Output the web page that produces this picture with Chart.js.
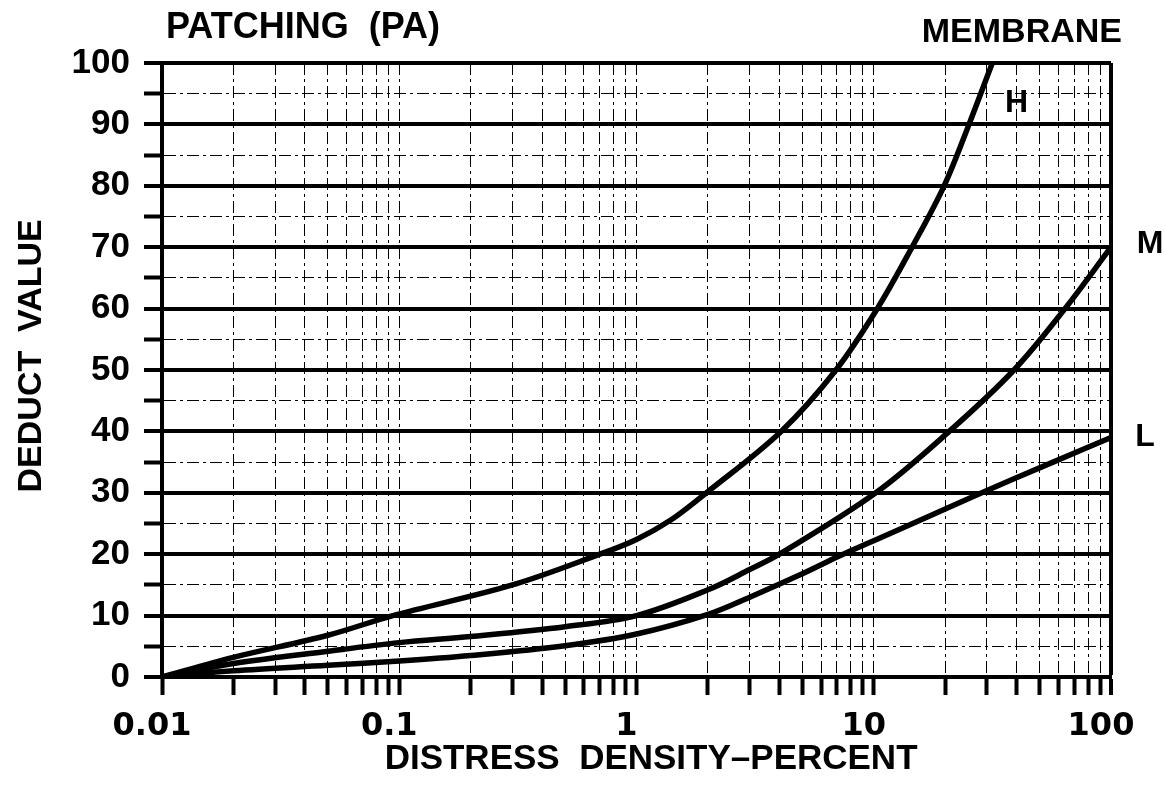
<!DOCTYPE html>
<html>
<head>
<meta charset="utf-8">
<title>Patching (PA) - Membrane</title>
<script src="https://cdn.jsdelivr.net/npm/chart.js@4.4.0/dist/chart.umd.min.js"></script>
<style>
  html, body { margin: 0; padding: 0; background: #fff; }
  canvas { display: block; }
</style>
</head>
<body>
<canvas id="deductChart" width="1166" height="789"></canvas>
<script>
// values (density in percent, deduct value)
const hDensity = [0.01, 0.02, 0.05, 0.094, 0.3, 0.7, 1, 1.4, 1.97, 4.07, 6.93, 10.35, 14.5, 19.8, 25.2, 31.6];
const hDeduct  = [0, 3.2, 6.8, 10, 15, 20, 22.4, 25.6, 30, 40, 50, 60, 70, 80, 90, 100];

const mDensity = [0.01, 0.02, 0.05, 0.1, 0.2, 0.5, 1, 2, 3, 4, 10.2, 20.8, 39, 64, 100];
const mDeduct  = [0, 2.2, 4.2, 5.6, 6.6, 8.2, 10, 14.2, 17.5, 20, 30, 40, 50, 60, 70];

const lDensity = [0.01, 0.02, 0.05, 0.1, 0.2, 0.5, 1, 2, 3, 5, 7.16, 10, 15, 27, 57, 100];
const lDeduct  = [0, 1.0, 1.9, 2.6, 3.5, 5.1, 7.0, 10.2, 13, 16.8, 19.7, 22.2, 25.2, 29.6, 35, 39];

const curveNames = ['H', 'M', 'L'];
const xTickLabels = ['0.01', '0.1', '1', '10', '100'];
const yTickLabels = ['0', '10', '20', '30', '40', '50', '60', '70', '80', '90', '100'];

const xTitle = 'DISTRESS  DENSITY–PERCENT';
const yTitle = 'DEDUCT  VALUE';
const leftCaption = 'PATCHING  (PA)';
const rightCaption = 'MEMBRANE';

// log grid: 1..9 in every decade, then 100
const xTickValues = [];
[0.01, 0.1, 1, 10].forEach(d => {
  for (let m = 1; m <= 9; m++) xTickValues.push(Number((d * m).toPrecision(3)));
});
xTickValues.push(100);

const toPoints = (xs, ys) => xs.map((x, i) => ({ x: x, y: ys[i] }));

const minorDash = [12, 4, 3, 4];

function curve(label, xs, ys) {
  return {
    label: label,
    data: toPoints(xs, ys),
    borderColor: '#000',
    borderWidth: 5.5,
    borderCapStyle: 'round',
    borderJoinStyle: 'round',
    pointRadius: 0,
    tension: 0.35,
    fill: false
  };
}

// captions and the H / M / L markers
const captionPlugin = {
  id: 'captions',
  afterDraw(chart) {
    const { ctx, chartArea, scales: { x, y } } = chart;
    ctx.save();
    ctx.fillStyle = '#000';
    ctx.textBaseline = 'middle';
    ctx.font = 'bold 36px "Liberation Sans", Arial, sans-serif';
    ctx.textAlign = 'left';
    ctx.fillText(leftCaption, 166, 28);
    ctx.font = 'bold 34px "Liberation Sans", Arial, sans-serif';
    ctx.textAlign = 'right';
    ctx.fillText(rightCaption, 1122, 33);

    ctx.font = 'bold 32px "Liberation Sans", Arial, sans-serif';
    ctx.textAlign = 'center';
    ctx.fillText(curveNames[0], x.getPixelForValue(40), y.getPixelForValue(93.5));
    ctx.fillText(curveNames[1], chartArea.right + 39, y.getPixelForValue(70.5));
    ctx.fillText(curveNames[2], chartArea.right + 34, y.getPixelForValue(39));
    ctx.restore();
  }
};

const ctx = document.getElementById('deductChart').getContext('2d');
const chart = new Chart(ctx, {
  type: 'line',
  data: {
    datasets: [
      curve('H', hDensity, hDeduct),
      curve('M', mDensity, mDeduct),
      curve('L', lDensity, lDeduct)
    ]
  },
  options: {
    responsive: false,
    animation: false,
    events: [],
    layout: { padding: { top: 63, right: 55, left: 0, bottom: 0 } },
    plugins: {
      legend: { display: false },
      tooltip: { enabled: false }
    },
    scales: {
      x: {
        type: 'logarithmic',
        position: 'bottom',
        min: 0.01,
        max: 100,
        afterBuildTicks: scale => {
          scale.ticks = xTickValues.map(v => ({ value: v }));
        },
        afterFit: scale => { scale.height = 112; },
        ticks: {
          autoSkip: false,
          maxRotation: 0,
          minRotation: 0,
          padding: 12,
          labelOffset: -10,
          color: '#000',
          font: { family: '"DejaVu Sans", sans-serif', weight: 'bold', size: 32 },
          callback: value => xTickLabels.find(s => Number(s) === value) || ''
        },
        grid: {
          color: '#000',
          lineWidth: c => (c.tick && c.tick.value === 100 ? 4 : 1),
          tickLength: 18,
          tickWidth: 4,
          tickColor: '#000',
          tickBorderDash: []
        },
        border: {
          display: true,
          color: '#000',
          width: 4,
          dash: c => (c.tick && c.tick.value !== 100 && c.tick.value !== 0.01 ? minorDash : [])
        },
        title: {
          display: true,
          text: '   ' + xTitle,
          color: '#000',
          font: { family: '"Liberation Sans", Arial, sans-serif', weight: 'bold', size: 35 },
          padding: { top: 0, bottom: 9 }
        }
      },
      y: {
        min: 0,
        max: 100,
        afterFit: scale => { scale.width = 162; },
        ticks: {
          stepSize: 5,
          autoSkip: false,
          padding: 14,
          color: '#000',
          font: { family: '"Liberation Sans", Arial, sans-serif', weight: 'bold', size: 35 },
          callback: value => yTickLabels.find(s => Number(s) === value) || ''
        },
        grid: {
          color: '#000',
          lineWidth: c => (c.tick && c.tick.value % 10 === 0 ? 4 : 1),
          tickLength: 18,
          tickWidth: 4,
          tickColor: '#000',
          tickBorderDash: []
        },
        border: {
          display: true,
          color: '#000',
          width: 4,
          dash: c => (c.tick && c.tick.value % 10 !== 0 ? minorDash : [])
        },
        title: {
          display: true,
          text: '   ' + yTitle,
          color: '#000',
          font: { family: '"Liberation Sans", Arial, sans-serif', weight: 'bold', size: 34 },
          padding: { top: 11, bottom: 0 }
        }
      }
    }
  },
  plugins: [captionPlugin]
});
</script>
</body>
</html>
